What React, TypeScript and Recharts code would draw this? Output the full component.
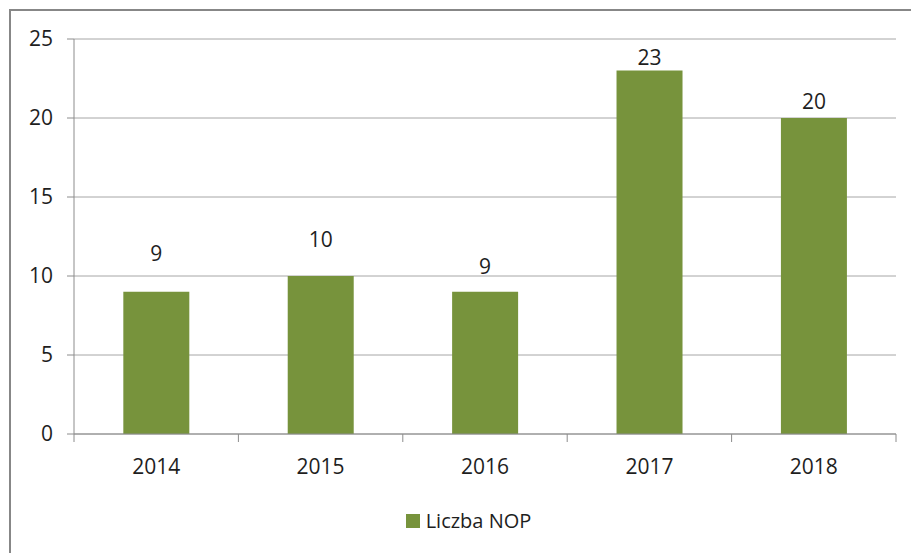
import React from 'react';
import { BarChart, Bar, XAxis, YAxis, CartesianGrid, Legend, LabelList } from 'recharts';

const categories = ['2014', '2015', '2016', '2017', '2018'];
const nopCounts = [9, 10, 9, 23, 20];
const yTicks = [0, 5, 10, 15, 20, 25];
const seriesName = 'Liczba NOP';

// styling: how far each value label sits above its bar (px)
const labelLift = [31, 29, 18, 6, 9];

const data = categories.map((c, i) => ({ year: c, value: nopCounts[i] }));

const FONT = '"Open Sans", sans-serif';
const FONT_SIZE = 21;
const BAR_COLOR = '#77933C';
const AXIS_COLOR = '#8c8c8c';
const GRID_COLOR = '#a6a6a6';
const TEXT_COLOR = '#1e1e1e';

const XTick = (props: any) => {
  const { x, y, payload, index, width } = props;
  const band = (width || 822) / categories.length;
  const left = x - band / 2;
  const right = x + band / 2;
  return (
    <g>
      <line x1={left} x2={left} y1={y} y2={y + 8} stroke={AXIS_COLOR} strokeWidth={1} />
      {index === categories.length - 1 && (
        <line x1={right} x2={right} y1={y} y2={y + 8} stroke={AXIS_COLOR} strokeWidth={1} />
      )}
      <text x={x} y={y + 40} textAnchor="middle" fill={TEXT_COLOR} fontFamily={FONT} fontSize={FONT_SIZE}>
        {payload.value}
      </text>
    </g>
  );
};

const ValueLabel = (props: any) => {
  const { x, y, width, index, value } = props;
  return (
    <text
      x={x + width / 2}
      y={y - labelLift[index]}
      textAnchor="middle"
      fill={TEXT_COLOR}
      fontFamily={FONT}
      fontSize={FONT_SIZE}
    >
      {value}
    </text>
  );
};

const LegendContent = () => (
  <div style={{ display: 'flex', justifyContent: 'center', alignItems: 'center', height: 24 }}>
    <span style={{ display: 'inline-block', width: 14, height: 14, background: BAR_COLOR, marginRight: 6, marginLeft: 30 }} />
    <span style={{ fontFamily: FONT, fontSize: 20, color: TEXT_COLOR, lineHeight: '24px' }}>{seriesName}</span>
  </div>
);

export default function App() {
  return (
    <div
      style={{
        position: 'fixed',
        left: 9,
        top: 9,
        width: 902,
        height: 544,
        boxSizing: 'border-box',
        borderTop: '2px solid #878787',
        borderLeft: '2px solid #878787',
        background: '#fff',
      }}
    >
      <BarChart
        width={900}
        height={542}
        data={data}
        margin={{ top: 28, right: 15, bottom: 45, left: 0 }}
        barCategoryGap="30%"
      >
        <CartesianGrid horizontal vertical={false} stroke={GRID_COLOR} />
        <XAxis
          dataKey="year"
          height={50}
          tickLine={false}
          tickSize={0}
          tickMargin={0}
          axisLine={{ stroke: AXIS_COLOR }}
          tick={<XTick />}
          interval={0}
        />
        <YAxis
          width={63}
          domain={[0, 25]}
          ticks={yTicks}
          interval={0}
          tickSize={7}
          tickMargin={14}
          axisLine={{ stroke: AXIS_COLOR }}
          tickLine={{ stroke: AXIS_COLOR }}
          tick={{ fill: TEXT_COLOR, fontFamily: FONT, fontSize: FONT_SIZE }}
        />
        <Legend verticalAlign="bottom" content={<LegendContent />} wrapperStyle={{ bottom: 20 }} />
        <Bar dataKey="value" name={seriesName} fill={BAR_COLOR} isAnimationActive={false}>
          <LabelList dataKey="value" content={<ValueLabel />} />
        </Bar>
      </BarChart>
    </div>
  );
}
